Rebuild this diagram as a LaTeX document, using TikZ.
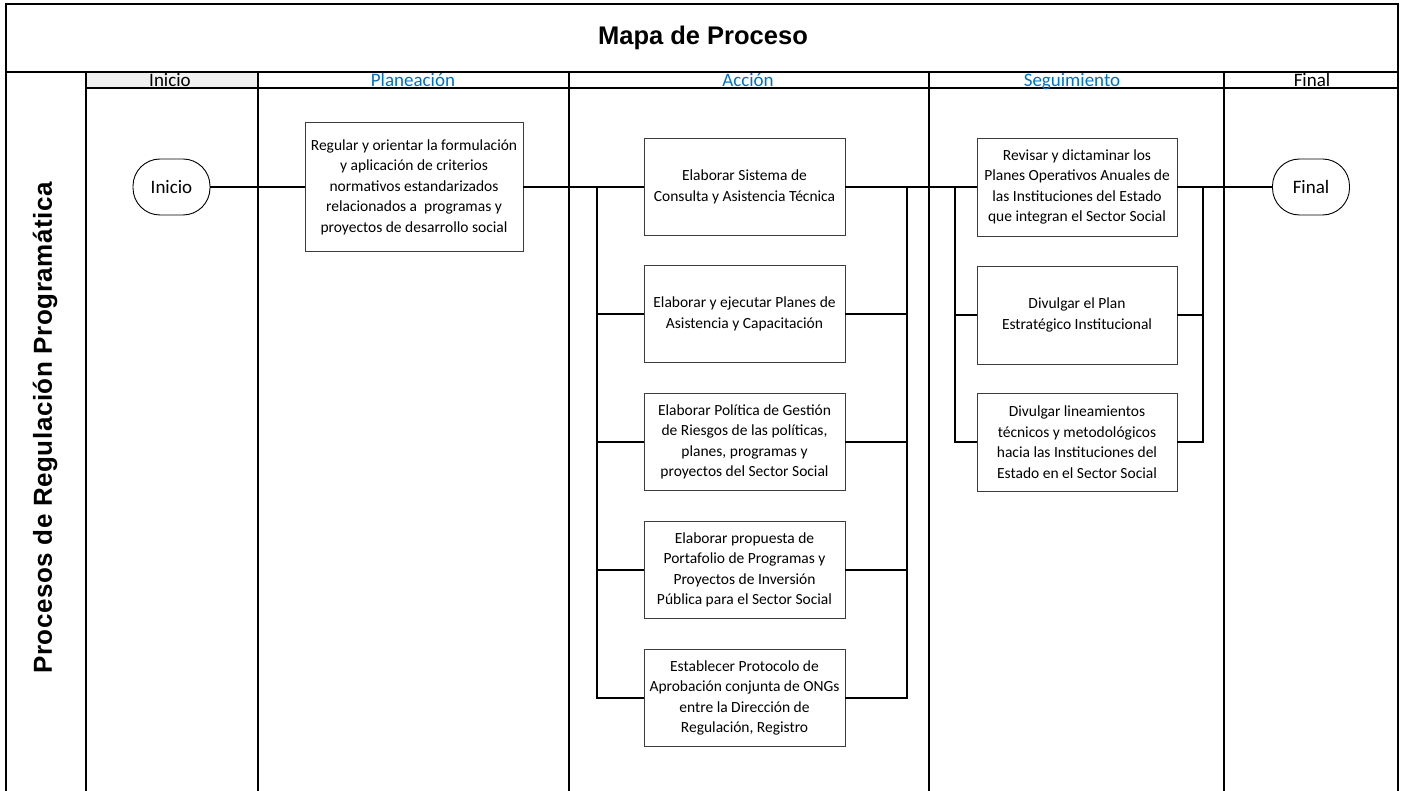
\documentclass[tikz,border=0pt]{standalone}
\usepackage{fontspec}
\setmainfont{Carlito}
\newfontfamily\arialfont{Liberation Sans}
\newfontfamily\lanefont{Liberation Sans}[LetterSpace=2]
\definecolor{hdrblue}{RGB}{0,112,192}
\definecolor{boxline}{RGB}{60,60,60}
\usetikzlibrary{calc}
\begin{document}
\begin{tikzpicture}[x=1pt,y=-1pt,
  lane/.style={line width=1.8pt,black},
  conn/.style={line width=1.5pt,black},
  procbox/.style={draw=boxline,line width=0.9pt,fill=white,align=center,
    font=\fontsize{15.5}{20.5}\selectfont,inner sep=2pt},
  term/.style={draw=black,line width=0.9pt,fill=white,rounded corners=27pt,
    minimum width=77pt,minimum height=56pt,font=\fontsize{19}{22}\selectfont},
  hdr/.style={font=\fontsize{19}{19}\selectfont,inner sep=0pt,anchor=base},
]
\useasboundingbox (0,0) rectangle (1405,791);
% header background
\fill[gray!12] (86,72) rectangle (258,88);
% frame and lanes
\draw[lane] (6,791) -- (6,4) -- (1398,4) -- (1398,791);
\draw[lane] (6,72) -- (1398,72);
\draw[lane] (86,88) -- (1398,88);
\foreach \xx in {86,258,569,929,1224} \draw[lane] (\xx,72) -- (\xx,791);
% title
\node[font=\arialfont\bfseries\fontsize{25.5}{28}\selectfont] (title) at (703,38) {Mapa de Proceso};
% headers
\node[hdr] (h1) at (170,86.5) {Inicio};
\node[hdr,text=hdrblue] (h2) at (413,86.5) {Planeación};
\node[hdr,text=hdrblue] (h3) at (748,86.5) {Acción};
\node[hdr,text=hdrblue] (h4) at (1072,86.5) {Seguimiento};
\node[hdr] (h5) at (1312,86.5) {Final};
% lane label
\node[rotate=90,font=\lanefont\bfseries\fontsize{26}{28}\selectfont] (lanelbl) at (45,428) {Procesos de Regulación Programática};
% nodes
\node[term] (inicio) at (171.5,187) {Inicio};
\node[procbox,minimum width=218pt,minimum height=129pt] (reg) at (414,187)
  {Regular y orientar la formulación\\y aplicación de criterios\\normativos estandarizados\\relacionados a~ programas y\\proyectos de desarrollo social};
\tikzset{abox/.style={procbox,minimum width=201pt,minimum height=97pt}}
\node[abox] (a1) at (744.5,187) {Elaborar Sistema de\\Consulta y Asistencia Técnica};
\node[abox] (a2) at (744.5,314) {Elaborar y ejecutar Planes de\\Asistencia y Capacitación};
\node[abox] (a3) at (744.5,442) {Elaborar Política de Gestión\\de Riesgos de las políticas,\\planes, programas y\\proyectos del Sector Social};
\node[abox] (a4) at (744.5,570) {Elaborar propuesta de\\Portafolio de Programas y\\Proyectos de Inversión\\Pública para el Sector Social};
\node[abox] (a5) at (744.5,698) {Establecer Protocolo de\\Aprobación conjunta de ONGs\\entre la Dirección de\\Regulación, Registro};
\tikzset{sbox/.style={procbox,minimum width=200pt,minimum height=98pt}}
\node[sbox] (s1) at (1077,187) {Revisar y dictaminar los\\Planes Operativos Anuales de\\las Instituciones del Estado\\que integran el Sector Social};
\node[sbox] (s2) at (1077,315) {Divulgar el Plan\\Estratégico Institucional};
\node[sbox] (s3) at (1077,442) {Divulgar lineamientos\\técnicos y metodológicos\\hacia las Instituciones del\\Estado en el Sector Social};
\node[term] (final) at (1311,187) {Final};
% bus coordinates
\coordinate (busAL) at (597,0);
\coordinate (busAR) at (907,0);
\coordinate (busSL) at (955,0);
\coordinate (busSR) at (1203,0);
% connectors
\draw[conn] (inicio) -- (reg);
\draw[conn] (reg.east) -- (a1.west);
\draw[conn] (busAL|-a1.west) |- (a5.west);
\foreach \n in {a2,a3,a4} \draw[conn] (busAL|-\n.west) -- (\n.west);
\draw[conn] (a1.east) -- (s1.west);
\draw[conn] (busAR|-a1.east) |- (a5.east);
\foreach \n in {a2,a3,a4} \draw[conn] (\n.east) -- (busAR|-\n.east);
\draw[conn] (busSL|-s1.west) |- (s3.west);
\draw[conn] (busSL|-s2.west) -- (s2.west);
\draw[conn] (s1.east) -- (final);
\draw[conn] (busSR|-s1.east) |- (s3.east);
\draw[conn] (s2.east) -- (busSR|-s2.east);
\end{tikzpicture}
\end{document}
